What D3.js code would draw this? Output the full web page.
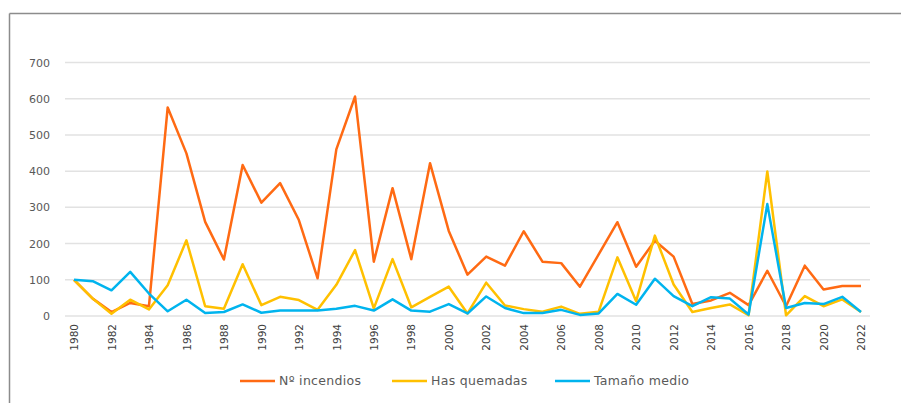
<!DOCTYPE html>
<html><head><meta charset="utf-8">
<script src="https://cdn.jsdelivr.net/npm/d3@7"></script>
<style>
html,body{margin:0;padding:0;background:#fff;}
svg{display:block;font-family:"DejaVu Sans","Liberation Sans",Arial,sans-serif;}
</style></head>
<body><svg id="c" width="901" height="403"></svg>
<script>
const years = d3.range(1980, 2023);
const incendios = [100,48,11,36,27,576,449,260,156,417,313,367,265,104,460,606,150,353,157,422,235,114,164,139,234,150,146,81,170,259,136,208,164,33,43,64,30,125,27,139,73,83,83];
const hasQuemadas = [100,48,6,45,18,85,209,27,20,143,30,53,44,17,86,182,21,157,24,53,81,7,92,29,19,12,26,6,12,162,41,222,87,11,22,32,2,399,2,55,27,46,11];
const tamanoMedio = [100,96,71,122,62,13,45,8,11,32,9,15,15,15,20,28,15,46,15,12,33,7,54,22,8,8,17,3,7,61,31,103,55,27,52,48,4,309,22,36,33,53,11];
const yTicks = [0,100,200,300,400,500,600,700];
const xTickYears = d3.range(1980, 2023, 2);
const seriesNames = ["Nº incendios","Has quemadas","Tamaño medio"];
const seriesColors = ["#FF6A13","#FFC000","#00B4EE"];
const seriesData = [incendios, hasQuemadas, tamanoMedio];

const svg = d3.select("#c");
const x = d3.scaleLinear().domain([1980, 2022]).range([74, 861]);
const y = d3.scaleLinear().domain([0, 700]).range([316, 62.5]);

// frame
svg.append("line").attr("x1",9.5).attr("x2",901).attr("y1",13.5).attr("y2",13.5).attr("stroke","#8c8c8c").attr("stroke-width",1.5);
svg.append("line").attr("x1",9.5).attr("x2",9.5).attr("y1",13.5).attr("y2",403).attr("stroke","#8c8c8c").attr("stroke-width",1.5);

// gridlines
svg.append("g").selectAll("line").data(yTicks).join("line")
  .attr("x1",65).attr("x2",870)
  .attr("y1",d=>y(d)).attr("y2",d=>y(d))
  .attr("stroke","#e2e2e2").attr("stroke-width",1.5);

// y axis
const yAxis = d3.axisLeft(y).tickValues(yTicks).tickSize(0).tickPadding(0);
const gy = svg.append("g").attr("transform","translate(50,0)").call(yAxis);
gy.select(".domain").remove();
gy.selectAll("text").attr("fill","#595959").style("font-size","11px")
  .style("font-family","'DejaVu Sans',sans-serif");

// x axis
const xAxis = d3.axisBottom(x).tickValues(xTickYears).tickFormat(d3.format("d")).tickSize(0).tickPadding(0);
const gx = svg.append("g").attr("transform","translate(0,322)").call(xAxis);
gx.select(".domain").remove();
gx.selectAll(".tick text").attr("fill","#404040").style("font-size","10.5px")
  .style("font-family","'DejaVu Sans',sans-serif")
  .attr("transform","rotate(-90)").attr("text-anchor","end")
  .attr("x",-2).attr("y",0).attr("dx",0).attr("dy","0.35em");

// lines
const line = d3.line().x((d,i)=>x(years[i])).y(d=>y(d));
seriesData.forEach((s,k)=>{
  svg.append("path").datum(s).attr("d",line)
    .attr("fill","none").attr("stroke",seriesColors[k]).attr("stroke-width",2.5)
    .attr("stroke-linejoin","round");
});

// legend
const legendX = [240, 392, 555];
const lg = svg.append("g");
seriesNames.forEach((n,k)=>{
  lg.append("line").attr("x1",legendX[k]).attr("x2",legendX[k]+35)
    .attr("y1",381).attr("y2",381).attr("stroke",seriesColors[k]).attr("stroke-width",2.5);
  lg.append("text").attr("x",legendX[k]+39).attr("y",381).attr("dy","0.35em")
    .attr("fill","#595959").style("font-size","12.5px").style("letter-spacing","0.3px").text(n);
});
</script></body></html>
